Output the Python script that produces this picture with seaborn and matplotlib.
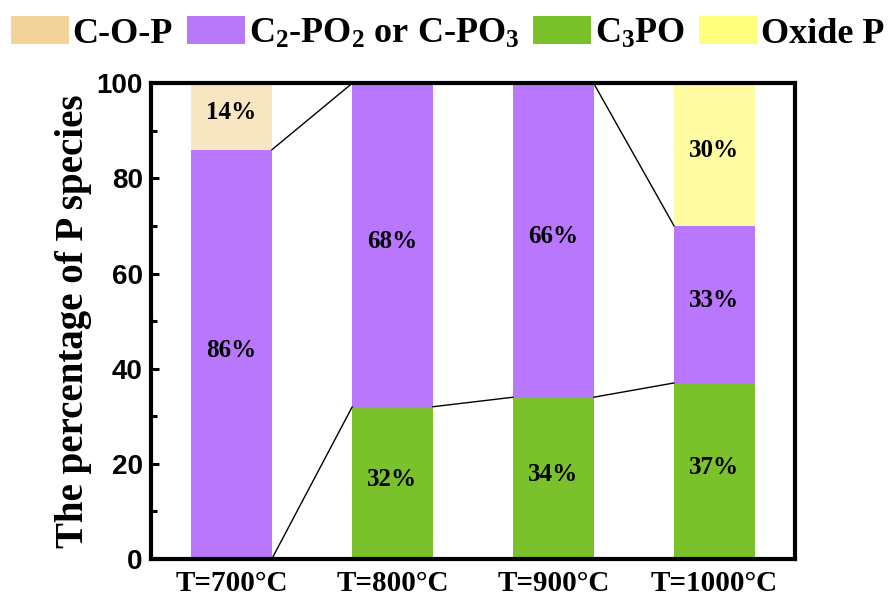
import numpy as np
import pandas as pd
import matplotlib
matplotlib.use("Agg")
import matplotlib.pyplot as plt
from matplotlib.patches import Patch
from matplotlib.ticker import MultipleLocator
import seaborn as sns

# Phosphorus species distribution at each annealing temperature (%)
temperatures = ["T=700°C", "T=800°C", "T=900°C", "T=1000°C"]
c3po = [0, 32, 34, 37]
c2po = [86, 68, 66, 33]
cop = [14, 0, 0, 0]
oxide = [0, 0, 0, 30]

species_names = ["C-O-P", r"C$_2$-PO$_2$ or C-PO$_3$", r"C$_3$PO", "Oxide P"]
legend_colors = ["#F2D49A", "#B979FB", "#7AC12B", "#FFFF7E"]
bar_colors = {"cop": "#F8E6C3", "c2po": "#B877FC", "c3po": "#7AC12B", "oxide": "#FEFBA0"}

sns.set_style("ticks")
plt.rcParams["font.family"] = ["Liberation Serif", "DejaVu Serif"]
plt.rcParams["font.weight"] = "bold"
plt.rcParams["mathtext.fontset"] = "custom"
plt.rcParams["mathtext.rm"] = "Liberation Serif:bold"
plt.rcParams["mathtext.bf"] = "Liberation Serif:bold"
plt.rcParams["mathtext.it"] = "Liberation Serif:bold:italic"
plt.rcParams["mathtext.default"] = "rm"
for key in ["text.color", "axes.labelcolor", "xtick.color", "ytick.color", "axes.edgecolor"]:
    plt.rcParams[key] = "black"

df = pd.DataFrame({"T": temperatures, "c3po": c3po, "c2po": c2po,
                   "cop": cop, "oxide": oxide})
df["top_c3po"] = df["c3po"]
df["top_c2po"] = df["c3po"] + df["c2po"]
df["top_cop"] = df["top_c2po"] + df["cop"]
df["top_oxide"] = df["top_c2po"] + df["oxide"]

fig = plt.figure(figsize=(8.89, 6.03), dpi=100)
ax = fig.add_axes([0.170, 0.073, 0.724, 0.789])

bar_width = 0.5
# stacked bars drawn from the tallest cumulative layer downwards
for col, key in [("top_cop", "cop"), ("top_oxide", "oxide"),
                 ("top_c2po", "c2po"), ("top_c3po", "c3po")]:
    sns.barplot(data=df, x="T", y=col, color=bar_colors[key], saturation=1,
                width=bar_width, errorbar=None, linewidth=0, ax=ax)

# connector lines between the tops of neighbouring segments
xs = np.arange(len(temperatures))
for col in ["top_c3po", "top_c2po"]:
    tops = df[col].to_numpy()
    for i in range(len(xs) - 1):
        ax.plot([xs[i] + bar_width / 2, xs[i + 1] - bar_width / 2],
                [tops[i], tops[i + 1]], color="black", lw=1.0, zorder=3)

# percentage labels in the middle of each segment
label_kw = dict(ha="center", va="center", fontsize=18, fontweight="bold", zorder=4)
for i in xs:
    segments = [(0, c3po[i]), (c3po[i], c2po[i]),
                (c3po[i] + c2po[i], cop[i]), (c3po[i] + c2po[i], oxide[i])]
    for base, val in segments:
        if val > 0:
            ax.text(i, base + val / 2 + 0.8, f"{val}%", **label_kw)

ax.set_xlim(-0.5, 3.5)
ax.set_ylim(0, 100)
ax.yaxis.set_major_locator(MultipleLocator(20))
ax.yaxis.set_minor_locator(MultipleLocator(10))
ax.set_xlabel("")
ax.set_ylabel("The percentage of P species", fontsize=28, fontweight="bold", labelpad=3)

for s in ax.spines.values():
    s.set_visible(True)
    s.set_linewidth(3)
    s.set_color("black")
ax.tick_params(axis="both", which="major", direction="in", length=6, width=2.2, colors="black")
ax.tick_params(axis="y", which="minor", direction="in", length=4, width=2.2, colors="black")
ax.tick_params(axis="x", which="major", pad=8, labelsize=21)
ax.tick_params(axis="y", which="major", pad=6)
for lbl in ax.get_yticklabels():
    lbl.set_fontfamily(["Liberation Sans", "DejaVu Sans"])
    lbl.set_fontsize(20)
    lbl.set_fontweight("bold")
for lbl in ax.get_xticklabels():
    lbl.set_fontweight("bold")

handles = [Patch(facecolor=c, edgecolor="none") for c in legend_colors]
fig.legend(handles, species_names, loc="upper left", bbox_to_anchor=(-0.008, 1.004),
           ncol=4, frameon=False, fontsize=26, handlelength=1.6, handleheight=0.85,
           handletextpad=0.1, columnspacing=0.4, borderpad=0.3, borderaxespad=0.2)

fig.savefig("out.png", dpi=100)
